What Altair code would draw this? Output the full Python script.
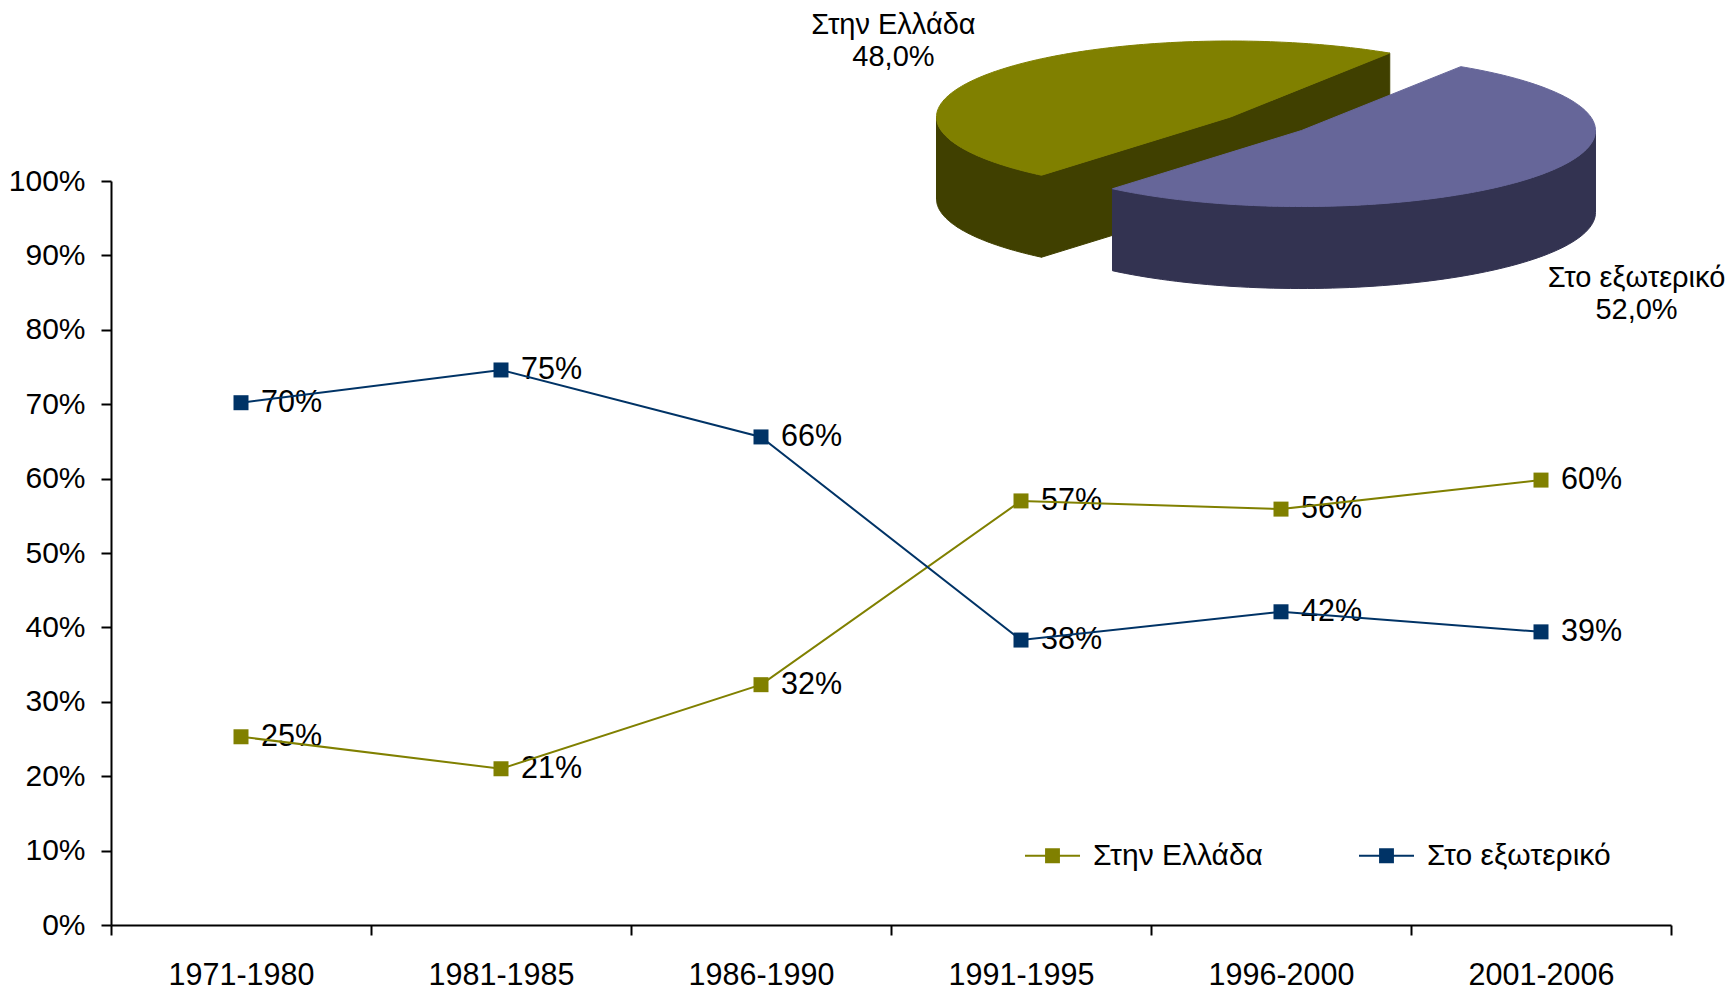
import altair as alt
import pandas as pd
import numpy as np

# ---------------- data ----------------
periods = ["1971-1980", "1981-1985", "1986-1990", "1991-1995", "1996-2000", "2001-2006"]
greece = [0.253, 0.210, 0.323, 0.570, 0.559, 0.598]
abroad = [0.702, 0.746, 0.656, 0.383, 0.421, 0.394]
series_names = ["Στην Ελλάδα", "Στο εξωτερικό"]
line_colors = ["#808000", "#003366"]

pie_names = ["Στην Ελλάδα", "Στο εξωτερικό"]
pie_shares = [48.0, 52.0]
pie_top_colors = ["#808000", "#666699"]
pie_side_colors = ["#404000", "#333351"]
pie_explode = [0.0, 0.30]

# ---------------- layout ----------------
FONT = "Liberation Sans"
W, H = 1560, 744
PAD_L, PAD_T, PAD_R, PAD_B = 103, 173, 55, 68
OX, OY = 8 + PAD_L, 8 + PAD_T          # page position of plot origin

# 3-D pie geometry (page pixels)
CX, CY = 1230.5, 117.0
RX, RY = 294.0, 76.0
DEPTH = 82.0
START_DEG = 130.0
LABEL_DX = -1.0

color_of = dict(zip(series_names, line_colors))
df = pd.DataFrame({
    "period": periods * 2,
    "series": [series_names[0]] * len(periods) + [series_names[1]] * len(periods),
    "value": greece + abroad,
})
df["col"] = df["series"].map(color_of)

# ---------------- pie polygons ----------------
labels = []
slices = []
a = np.deg2rad(START_DEG)
for name, share, top_c, side_c, ex in zip(pie_names, pie_shares, pie_top_colors, pie_side_colors, pie_explode):
    span = np.deg2rad(share / 100.0 * 360.0)
    a0, a1 = a, a + span
    mid = (a0 + a1) / 2
    cx = CX + ex * RX * np.cos(mid)
    cy = CY + ex * RY * np.sin(mid)
    slices.append(dict(name=name, share=share, top=top_c, side=side_c, a0=a0, a1=a1, mid=mid, cx=cx, cy=cy))
    a = a1

def rim(s, t, dz=0.0):
    return s["cx"] + RX * np.cos(t), s["cy"] + RY * np.sin(t) + dz

polys = []  # (color, [(x,y),...])
for s in sorted(slices, key=lambda s: np.sin(s["mid"])):
    faces = []
    for edge, normal in ((s["a0"], s["a0"] - np.pi / 2), (s["a1"], s["a1"] + np.pi / 2)):
        if np.sin(normal) > 0:
            p1 = rim(s, edge)
            p2 = rim(s, edge, DEPTH)
            faces.append((np.sin(edge), [(s["cx"], s["cy"]), p1, p2, (s["cx"], s["cy"] + DEPTH)]))
    for _, pts in sorted(faces, key=lambda f: f[0]):
        polys.append((s["side"], pts))
    for k in range(-1, 3):
        lo = max(s["a0"], 2 * np.pi * k)
        hi = min(s["a1"], 2 * np.pi * k + np.pi)
        if hi > lo:
            ts = np.linspace(lo, hi, 80)
            top = [rim(s, t) for t in ts]
            bot = [rim(s, t, DEPTH) for t in ts[::-1]]
            polys.append((s["side"], top + bot))
    ts = np.linspace(s["a0"], s["a1"], 160)
    polys.append((s["top"], [(s["cx"], s["cy"])] + [rim(s, t) for t in ts]))
    lx = s["cx"] + 1.42 * RX * np.cos(s["mid"]) + LABEL_DX
    ly = s["cy"] + 1.75 * RY * np.sin(s["mid"]) + (DEPTH if np.sin(s["mid"]) > 0 else 0)
    pct = f"{s['share']:.1f}".replace(".", ",") + "%"
    labels.append({"txt": s["name"], "px": lx, "py": ly - 13})
    labels.append({"txt": pct, "px": lx, "py": ly + 19})

rows = []
for pid, (color, pts) in enumerate(polys):
    for i, (x, y) in enumerate(pts):
        rows.append({"poly": pid, "i": i, "px": x, "py": y})
poly_df = pd.DataFrame(rows)
lab_df = pd.DataFrame(labels)

xs = alt.Scale(domain=[OX, OX + W], nice=False, zero=False)
ys = alt.Scale(domain=[OY, OY + H], nice=False, zero=False, reverse=True)

pie_layers = []
for pid, (color, _) in enumerate(polys):
    pie_layers.append(
        alt.Chart(poly_df).transform_filter(alt.datum.poly == pid)
        .mark_line(interpolate="linear-closed", strokeWidth=1, clip=False)
        .encode(
            x=alt.X("px:Q", scale=xs, axis=None),
            y=alt.Y("py:Q", scale=ys, axis=None),
            order=alt.Order("i:Q"),
            fill=alt.value(color),
            stroke=alt.value(color),
        )
    )
pie_text = alt.Chart(lab_df).mark_text(
    font=FONT, fontSize=29, color="black", align="center", baseline="middle"
).encode(
    x=alt.X("px:Q", scale=xs, axis=None),
    y=alt.Y("py:Q", scale=ys, axis=None),
    text="txt:N",
)
pie = alt.layer(*pie_layers, pie_text)

# ---------------- line chart ----------------
base = alt.Chart(df)
x_enc = alt.X(
    "period:N", sort=periods,
    scale=alt.Scale(type="band", paddingInner=0, paddingOuter=0),
    axis=alt.Axis(title=None, tickBand="extent", labelAngle=0, labelPadding=25,
                  labelFontSize=30.5, labelFont=FONT, labelColor="black",
                  domainColor="black", domainWidth=2, tickColor="black",
                  tickWidth=2, tickSize=10, grid=False),
)
y_enc = alt.Y(
    "value:Q", scale=alt.Scale(domain=[0, 1], nice=False),
    axis=alt.Axis(title=None, format=".0%", values=[i / 10 for i in range(11)],
                  labelPadding=16, labelFontSize=30, labelFont=FONT, labelColor="black",
                  domainColor="black", domainWidth=2, tickColor="black",
                  tickWidth=2, tickSize=10, grid=False),
)

color_scale = alt.Scale(domain=series_names, range=line_colors)
legend_symbol = "M-1,-0.04H1V0.04H-1Z M-0.27,-0.27H0.27V0.27H-0.27Z"

texts = base.mark_text(align="left", baseline="middle", dx=20, fontSize=30.5,
                       font=FONT, color="black").encode(
    x=x_enc, y=y_enc, text=alt.Text("value:Q", format=".0%"))
lines = base.mark_line(strokeWidth=2).encode(
    x=x_enc, y=y_enc, detail="series:N",
    stroke=alt.Stroke("col:N", scale=None))
points = base.mark_square(size=225, filled=True, opacity=1).encode(
    x=x_enc, y=y_enc,
    color=alt.Color("series:N", scale=color_scale, legend=alt.Legend(
        title=None, orient="none", legendX=914, legendY=647, direction="horizontal",
        symbolType=legend_symbol, symbolSize=3025, symbolStrokeWidth=0,
        labelFontSize=30, labelFont=FONT, labelColor="black", labelOffset=13,
        labelLimit=500, columnPadding=96, padding=0)))

main = alt.layer(texts, lines, points)

chart = alt.layer(pie, main).resolve_scale(
    x="independent", y="independent"
).properties(
    width=W, height=H,
    padding={"left": PAD_L, "top": PAD_T, "right": PAD_R, "bottom": PAD_B},
    autosize=alt.AutoSizeParams(type="none"),
    background="white",
).configure_view(stroke=None)

chart.save("out.html", embed_options={"renderer": "svg", "actions": False})
